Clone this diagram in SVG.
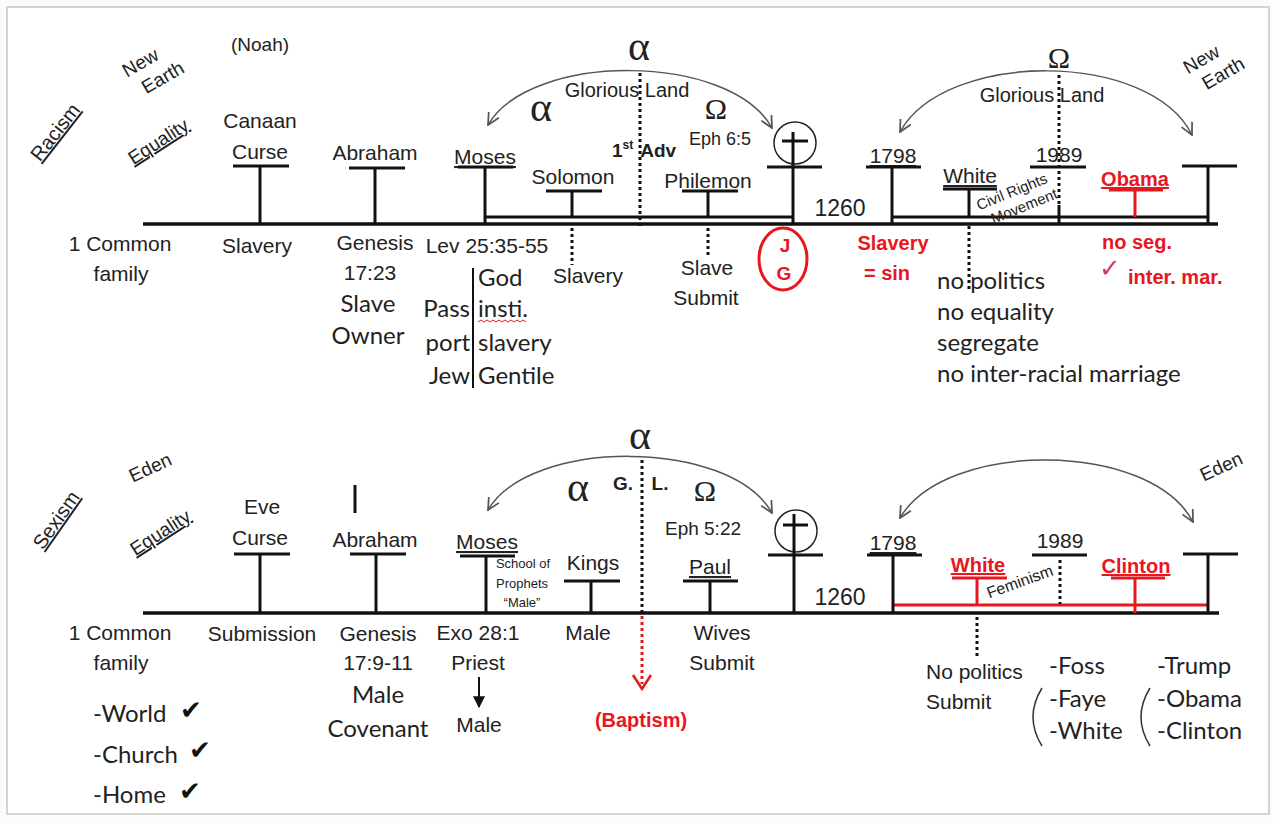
<svg xmlns="http://www.w3.org/2000/svg" width="1273" height="824" viewBox="0 0 1273 824">
<defs>
<style>
.t{font-family:"Liberation Sans",Arial,sans-serif;font-size:21px;fill:#222;text-anchor:middle}
.c{font-family:Lato,"Open Sans",sans-serif;font-size:24px;fill:#222}
.r{fill:#e8161e;font-weight:bold}
.b{font-weight:bold}
.s{text-anchor:start}
.e{text-anchor:end}
.f13{font-size:13px}
.f12{font-size:12px}
.f15{font-size:15px}
.f16{font-size:16px}
.f18{font-size:18px}
.f19{font-size:19px}
.f20{font-size:20px}
.f23{font-size:23px}
.g{font-family:"Liberation Serif","Times New Roman",serif;fill:#222;text-anchor:middle}
.ln{stroke:#111;stroke-width:3;fill:none}
.main{stroke:#111;stroke-width:3.5;fill:none}
.rl{stroke:#e8161e;stroke-width:3;fill:none}
.dot{stroke:#111;stroke-width:3;stroke-dasharray:3 3;fill:none}
.rdot{stroke:#e8161e;stroke-width:3;stroke-dasharray:3 3;fill:none}
.arc{stroke:#555;stroke-width:1.5;fill:none;marker-start:url(#oa);marker-end:url(#oa)}
.chk{font-family:"DejaVu Sans",sans-serif;font-size:26px;fill:#111;text-anchor:middle}
</style>
<marker id="oa" viewBox="0 0 12 12" refX="11" refY="6" markerWidth="14" markerHeight="14" markerUnits="userSpaceOnUse" orient="auto-start-reverse">
<path d="M1,1 L11,6 L1,11" fill="none" stroke="#555" stroke-width="1.5"/>
</marker>
<marker id="fa" viewBox="0 0 10 10" refX="9" refY="5" markerWidth="12" markerHeight="12" markerUnits="userSpaceOnUse" orient="auto">
<path d="M0,0 L10,5 L0,10 Z" fill="#111"/>
</marker>
</defs>
<rect x="0" y="0" width="1273" height="824" fill="#fbfbfb"/>
<rect x="7" y="7" width="1262" height="807" fill="#fff" stroke="#d4d4d4" stroke-width="2"/>

<g id="connectors">
<line class="main" x1="143" y1="224" x2="1218" y2="224"/>
<line class="ln" x1="485" y1="217" x2="793" y2="217"/>
<line class="ln" x1="892" y1="217" x2="1208" y2="217"/>
<line class="dot" x1="640" y1="73" x2="640" y2="229"/>
<line class="dot" x1="1059" y1="75" x2="1059" y2="205"/>
<line class="ln" x1="1059" y1="205" x2="1059" y2="224"/>
<line class="dot" x1="572" y1="228" x2="572" y2="265"/>
<line class="dot" x1="708" y1="228" x2="708" y2="258"/>
<line class="dot" x1="969" y1="226" x2="969" y2="292"/>
<path class="arc" d="M488,125 C530,52 730,52 772,128"/>
<path class="arc" d="M900,132 C945,50 1150,50 1192,135"/>
<line class="main" x1="143" y1="613" x2="1219" y2="613"/>
<line class="rl" x1="893" y1="605" x2="1208" y2="605"/>
<line class="dot" x1="642" y1="460" x2="642" y2="612"/>
<line class="rdot" x1="642" y1="616" x2="642" y2="684"/>
<path d="M633,675 L642,689 L651,675" fill="none" stroke="#e8161e" stroke-width="2.5"/>
<line class="dot" x1="1060" y1="560" x2="1060" y2="604"/>
<line class="dot" x1="977" y1="617" x2="977" y2="657"/>
<line x1="479" y1="677" x2="479" y2="707" stroke="#111" stroke-width="2" marker-end="url(#fa)"/>
<path class="arc" d="M488,510 C530,438 730,438 772,513"/>
<path class="arc" d="M900,518 C945,440 1150,440 1193,522"/>
</g>

<g id="racism-labels">
<text class="t f20" text-decoration="underline" transform="translate(55,132) rotate(-52)" y="7">Racism</text>
<g transform="translate(155,72) rotate(-30)">
<text class="t f19" x="-8" y="-9">New</text>
<text class="t f19" x="4" y="15">Earth</text>
</g>
<text class="t f19" text-decoration="underline" transform="translate(158,141) rotate(-33)" y="7">Equality</text>
<text class="t f19" x="260" y="51">(Noah)</text>
</g>

<g id="t-canaan">
<text class="t" x="260" y="128">Canaan</text>
<text class="t" x="260" y="159">Curse</text>
<line class="ln" x1="233" y1="166" x2="289" y2="166"/>
<line class="ln" x1="260" y1="166" x2="260" y2="224"/>
<text class="t" x="257" y="253">Slavery</text>
</g>

<g id="t-abraham">
<text class="t" x="375" y="160">Abraham</text>
<line class="ln" x1="349" y1="168" x2="405" y2="168"/>
<line class="ln" x1="375" y1="168" x2="375" y2="224"/>
<text class="t" x="375" y="250">Genesis</text>
<text class="t" x="370" y="280">17:23</text>
<text class="c" x="368" y="312" text-anchor="middle">Slave</text>
<text class="c" x="368" y="344" text-anchor="middle">Owner</text>
</g>

<g id="t-common">
<text class="t" x="120" y="251">1 Common</text>
<text class="t" x="121" y="281">family</text>
</g>

<g id="t-moses">
<text class="t" x="485" y="164" text-decoration="underline">Moses</text>
<line class="ln" x1="458" y1="167" x2="513" y2="167"/>
<line class="ln" x1="485" y1="167" x2="485" y2="224"/>
<text class="t" x="487" y="253">Lev 25:35-55</text>
<line x1="473" y1="268" x2="473" y2="388" stroke="#111" stroke-width="2"/>
<text class="c" x="478" y="286">God</text>
<text class="c e" x="470" y="317">Pass</text>
<text class="c" x="478" y="317">insti.</text>
<path d="M478,322 l3,-2 l3,2 l3,-2 l3,2 l3,-2 l3,2 l3,-2 l3,2 l3,-2 l3,2 l3,-2 l3,2 l3,-2 l3,2 l3,-2 l3,2" fill="none" stroke="#e8161e" stroke-width="1"/>
<text class="c e" x="470" y="351">port</text>
<text class="c" x="478" y="351">slavery</text>
<text class="c e" x="470" y="384">Jew</text>
<text class="c" x="478" y="384">Gentile</text>
</g>

<g id="t-solomon">
<text class="t" x="573" y="184">Solomon</text>
<line class="ln" x1="546" y1="191" x2="602" y2="191"/>
<line class="ln" x1="572" y1="191" x2="572" y2="217"/>
<text class="t" x="588" y="283">Slavery</text>
</g>

<g id="t-alpha-top">
<text class="g" font-size="42" x="639" y="60">α</text>
<text class="g" font-size="42" x="541" y="121">α</text>
<text class="g" font-size="30" x="716" y="119">Ω</text>
<text class="t f20" x="627" y="97">Glorious Land</text>
<text class="t b f19 s" x="612" y="157">1<tspan class="f12" dy="-8">st</tspan><tspan dx="7" dy="8">Adv</tspan></text>
<text class="t f18" x="720" y="145">Eph 6:5</text>
</g>

<g id="t-philemon">
<text class="t" x="708" y="188">Philemon</text>
<line class="ln" x1="682" y1="191" x2="738" y2="191"/>
<line class="ln" x1="708" y1="191" x2="708" y2="217"/>
<text class="t" x="707" y="275">Slave</text>
<text class="t" x="706" y="305">Submit</text>
</g>

<g id="t-cross">
<circle cx="795" cy="143" r="21" fill="none" stroke="#222" stroke-width="1.5"/>
<line class="ln" x1="793" y1="132" x2="793" y2="224"/>
<line class="ln" x1="782" y1="141" x2="808" y2="141"/>
<line class="ln" x1="767" y1="167" x2="822" y2="167"/>
<ellipse cx="783" cy="259" rx="24" ry="31" fill="none" stroke="#e8161e" stroke-width="3"/>
<text class="t r f19" x="785" y="252">J</text>
<text class="t r f19" x="784" y="280">G</text>
<text class="t f23" x="840" y="216">1260</text>
</g>

<g id="t-1798">
<text class="t" x="893" y="163" text-decoration="underline">1798</text>
<line class="ln" x1="866" y1="167" x2="921" y2="167"/>
<line class="ln" x1="892" y1="167" x2="892" y2="224"/>
<text class="t r f20" x="893" y="250">Slavery</text>
<text class="t r f20" x="887" y="280">= sin</text>
</g>

<g id="t-white">
<text class="t" x="970" y="183" text-decoration="underline">White</text>
<line class="ln" x1="943" y1="189" x2="997" y2="189"/>
<line class="ln" x1="969" y1="189" x2="969" y2="217"/>
<g transform="translate(1016,202) rotate(-22)">
<text class="t f15" x="0" y="-6">Civil Rights</text>
<text class="t f15" x="6" y="12">Movement</text>
</g>
<text class="c" x="937" y="289">no politics</text>
<text class="c" x="937" y="320">no equality</text>
<text class="c" x="937" y="351">segregate</text>
<text class="c" x="937" y="382">no inter-racial marriage</text>
</g>

<g id="t-1989">
<text class="t" x="1059" y="162">1989</text>
<line class="ln" x1="1030" y1="167" x2="1086" y2="167"/>
<text class="g" font-size="30" x="1059" y="68">Ω</text>
<text class="t f20" x="1042" y="102">Glorious Land</text>
</g>

<g id="t-obama">
<text class="t r f20" x="1135" y="186" text-decoration="underline">Obama</text>
<line class="rl" x1="1109" y1="190" x2="1163" y2="190"/>
<line class="rl" x1="1135" y1="190" x2="1135" y2="217"/>
<text class="t r f20" x="1137" y="249">no seg.</text>
<text x="1110" y="277" font-family="'DejaVu Sans',sans-serif" font-size="26" fill="#e0306e" text-anchor="middle">✓</text>
<text class="t r f20 s" x="1128" y="284">inter. mar.</text>
</g>

<g id="t-newearth">
<line class="ln" x1="1182" y1="166" x2="1237" y2="166"/>
<line class="ln" x1="1208" y1="166" x2="1208" y2="224"/>
<g transform="translate(1215,67) rotate(-30)">
<text class="t f19" x="-8" y="-7">New</text>
<text class="t f19" x="4" y="16">Earth</text>
</g>
</g>

<g id="sexism-labels">
<text class="t f20" text-decoration="underline" transform="translate(56,520) rotate(-55)" y="7">Sexism</text>
<text class="t f19" transform="translate(150,467) rotate(-25)" y="7">Eden</text>
<text class="t f19" text-decoration="underline" transform="translate(160,532) rotate(-33)" y="7">Equality</text>
</g>

<g id="b-common">
<text class="t" x="120" y="640">1 Common</text>
<text class="t" x="121" y="670">family</text>
<text class="c" x="93" y="722">-World</text>
<text class="c" x="93" y="763">-Church</text>
<text class="c" x="93" y="803">-Home</text>
<text class="chk" x="191" y="719">✔</text>
<text class="chk" x="200" y="759">✔</text>
<text class="chk" x="190" y="800">✔</text>
</g>

<g id="b-eve">
<text class="t" x="262" y="514">Eve</text>
<text class="t" x="260" y="545">Curse</text>
<line class="ln" x1="234" y1="554" x2="290" y2="554"/>
<line class="ln" x1="260" y1="554" x2="260" y2="613"/>
<text class="t" x="262" y="641">Submission</text>
</g>

<g id="b-abraham">
<line class="ln" x1="355" y1="485" x2="355" y2="513"/>
<text class="t" x="375" y="547">Abraham</text>
<line class="ln" x1="350" y1="554" x2="406" y2="554"/>
<line class="ln" x1="376" y1="554" x2="376" y2="613"/>
<text class="t" x="378" y="641">Genesis</text>
<text class="t" x="378" y="670">17:9-11</text>
<text class="c" x="378" y="703" text-anchor="middle">Male</text>
<text class="c" x="378" y="737" text-anchor="middle">Covenant</text>
</g>

<g id="b-moses">
<text class="t" x="487" y="549" text-decoration="underline">Moses</text>
<line class="ln" x1="460" y1="556" x2="515" y2="556"/>
<line class="ln" x1="486" y1="556" x2="486" y2="613"/>
<text class="t f13" x="523" y="568">School of</text>
<text class="t f13" x="522" y="588">Prophets</text>
<text class="t f13" x="522" y="607">“Male”</text>
<text class="t" x="478" y="640">Exo 28:1</text>
<text class="t" x="478" y="670">Priest</text>
<text class="t" x="479" y="732">Male</text>
</g>

<g id="b-kings">
<text class="t" x="593" y="570">Kings</text>
<line class="ln" x1="564" y1="581" x2="620" y2="581"/>
<line class="ln" x1="591" y1="581" x2="591" y2="613"/>
<text class="t" x="588" y="640">Male</text>
</g>

<g id="b-alpha">
<text class="g" font-size="42" x="640" y="449">α</text>
<text class="g" font-size="42" x="578" y="501">α</text>
<text class="g" font-size="30" x="705" y="501">Ω</text>
<text class="t b f19" x="623" y="490">G.</text>
<text class="t b f19" x="660" y="490">L.</text>
<text class="t f19" x="703" y="535">Eph 5:22</text>
<text class="t r f20" x="641" y="727">(Baptism)</text>
</g>

<g id="b-paul">
<text class="t" x="710" y="574" text-decoration="underline">Paul</text>
<line class="ln" x1="683" y1="581" x2="738" y2="581"/>
<line class="ln" x1="710" y1="581" x2="710" y2="613"/>
<text class="t" x="722" y="640">Wives</text>
<text class="t" x="722" y="670">Submit</text>
</g>

<g id="b-cross">
<circle cx="796" cy="531" r="21" fill="none" stroke="#222" stroke-width="1.5"/>
<line class="ln" x1="794" y1="514" x2="794" y2="613"/>
<line class="ln" x1="783" y1="525" x2="808" y2="525"/>
<line class="ln" x1="768" y1="555" x2="823" y2="555"/>
<text class="t f23" x="840" y="605">1260</text>
</g>

<g id="b-1798">
<text class="t" x="893" y="550" text-decoration="underline">1798</text>
<line class="ln" x1="867" y1="555" x2="922" y2="555"/>
<line class="ln" x1="893" y1="555" x2="893" y2="613"/>
</g>

<g id="b-white">
<text class="t r f20" x="978" y="572" text-decoration="underline">White</text>
<line class="rl" x1="952" y1="578" x2="1007" y2="578"/>
<line class="rl" x1="977" y1="578" x2="977" y2="605"/>
<text class="t f16" transform="translate(1020,582) rotate(-20)" y="5">Feminism</text>
<text class="t s" x="926" y="679">No politics</text>
<text class="t s" x="926" y="709">Submit</text>
</g>

<g id="b-1989">
<text class="t" x="1060" y="548">1989</text>
<line class="ln" x1="1032" y1="555" x2="1087" y2="555"/>
<text class="c" x="1049" y="674">-Foss</text>
<text class="c" x="1049" y="707">-Faye</text>
<text class="c" x="1049" y="739">-White</text>
<path d="M1042,688 Q1024,717 1042,746" fill="none" stroke="#333" stroke-width="1.5"/>
</g>

<g id="b-clinton">
<text class="t r f20" x="1136" y="573" text-decoration="underline">Clinton</text>
<line class="rl" x1="1111" y1="578" x2="1165" y2="578"/>
<line class="rl" x1="1135" y1="578" x2="1135" y2="613"/>
<text class="c" x="1157" y="674">-Trump</text>
<text class="c" x="1157" y="707">-Obama</text>
<text class="c" x="1157" y="739">-Clinton</text>
<path d="M1150,688 Q1132,717 1150,746" fill="none" stroke="#333" stroke-width="1.5"/>
</g>

<g id="b-eden">
<line class="ln" x1="1183" y1="554" x2="1238" y2="554"/>
<line class="ln" x1="1208" y1="554" x2="1208" y2="613"/>
<text class="t f19" transform="translate(1221,466) rotate(-25)" y="7">Eden</text>
</g>
</svg>
